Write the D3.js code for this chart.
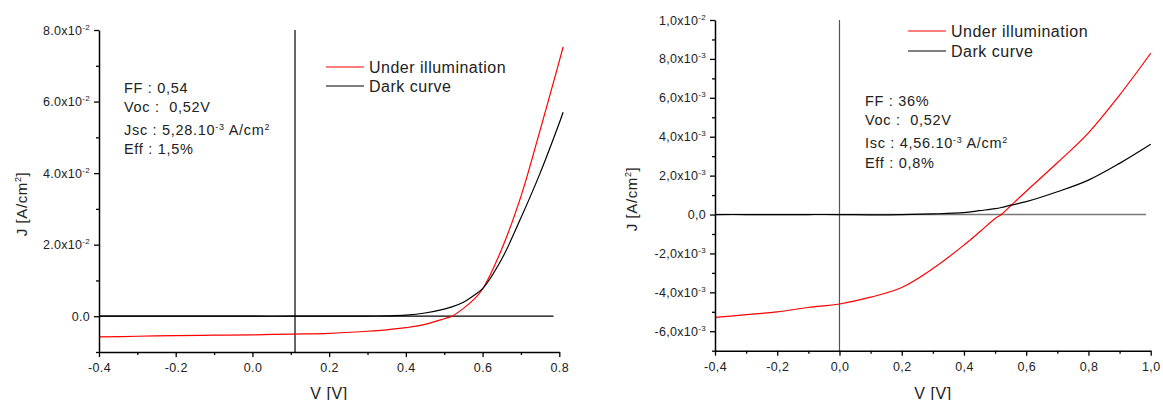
<!DOCTYPE html>
<html lang="en">
<head>
<meta charset="UTF-8" />
<title>J-V curves</title>
<script src="https://d3js.org/d3.v7.min.js"></script>
<style>
  body { margin: 0; background: #fff; }
  svg text { font-family: Arial, "Liberation Sans", sans-serif; fill: #222; white-space: pre; }
</style>
</head>
<body>
<svg width="1163" height="400"></svg>
<script>
// ---- left panel data ----
const leftV     = [-0.4, -0.3, -0.2, -0.1, 0.0, 0.1, 0.2, 0.3, 0.35, 0.4, 0.45, 0.5, 0.52, 0.55, 0.58, 0.6, 0.65, 0.7, 0.75, 0.8, 0.81];
const leftLight = [-0.0058, -0.0056, -0.0054, -0.0053, -0.0052, -0.0050, -0.0048, -0.0042, -0.0038, -0.0032, -0.0023, -0.0007, 0.0, 0.0022, 0.0050, 0.0076, 0.0188, 0.0335, 0.052, 0.0713, 0.0753];
const leftDark  = [0, 0, 0, 0, 0, 0, 0.00002, 0.00005, 0.0001, 0.0003, 0.0009, 0.0020, 0.0026, 0.0039, 0.0060, 0.0077, 0.0160, 0.0275, 0.040, 0.054, 0.057];
const leftXTicks  = [-0.4, -0.2, 0.0, 0.2, 0.4, 0.6, 0.8];
const leftXLabels = ["-0.4", "-0.2", "0.0", "0.2", "0.4", "0.6", "0.8"];
const leftXMinor  = [-0.3, -0.1, 0.1, 0.3, 0.5, 0.7];
const leftYTicks  = [0, 0.02, 0.04, 0.06, 0.08];
const leftYLabels = ["0.0", "2.0x10^-2", "4.0x10^-2", "6.0x10^-2", "8.0x10^-2"];
const leftYMinor  = [-0.01, 0.01, 0.03, 0.05, 0.07];
const leftInfo = ["FF : 0,54", "Voc :  0,52V", "Jsc : 5,28.10^-3 A/cm^2", "Eff : 1,5%"];

// ---- right panel data ----
const rightV     = [-0.4, -0.3, -0.2, -0.1, 0.0, 0.1, 0.2, 0.3, 0.4, 0.45, 0.5, 0.52, 0.55, 0.6, 0.7, 0.8, 0.9, 1.0];
const rightLight = [-0.00529, -0.00515, -0.0050, -0.00478, -0.0046, -0.00425, -0.00375, -0.00278, -0.00157, -0.0009, -0.0002, 0.0, 0.00045, 0.0012, 0.00266, 0.0042, 0.00614, 0.00829];
const rightDark  = [0.0, 0.0, -0.00001, 0.0, 0.0, -0.00002, -0.00001, 0.00003, 0.0001, 0.0002, 0.0003, 0.00036, 0.00048, 0.00066, 0.00117, 0.00177, 0.00263, 0.00361];
const rightXTicks  = [-0.4, -0.2, 0.0, 0.2, 0.4, 0.6, 0.8, 1.0];
const rightXLabels = ["-0,4", "-0,2", "0,0", "0,2", "0,4", "0,6", "0,8", "1,0"];
const rightXMinor  = [-0.3, -0.1, 0.1, 0.3, 0.5, 0.7, 0.9];
const rightYTicks  = [-0.006, -0.004, -0.002, 0, 0.002, 0.004, 0.006, 0.008, 0.01];
const rightYLabels = ["-6,0x10^-3", "-4,0x10^-3", "-2,0x10^-3", "0,0", "2,0x10^-3", "4,0x10^-3", "6,0x10^-3", "8,0x10^-3", "1,0x10^-2"];
const rightYMinor  = [-0.007, -0.005, -0.003, -0.001, 0.001, 0.003, 0.005, 0.007, 0.009];
const rightInfo = ["FF : 36%", "Voc :  0,52V", "Isc : 4,56.10^-3 A/cm^2", "Eff : 0,8%"];

const legendNames = ["Under illumination", "Dark curve"];
const seriesColors = ["#ff0000", "#000000"];

const svg = d3.select("svg");

// writes "a^-2 b" style strings with superscripts
function rich(sel, str, supSize) {
  sel.text(null);
  const parts = str.split(/(\^[-\d]+)/).filter(p => p !== "");
  let raised = false;
  parts.forEach(p => {
    if (p.startsWith("^")) {
      sel.append("tspan").attr("dy", -5).attr("font-size", supSize).text(p.slice(1));
      raised = true;
    } else {
      const t = sel.append("tspan").text(p);
      if (raised) { t.attr("dy", 5); raised = false; }
    }
  });
}

function drawPanel(p) {
  const x = d3.scaleLinear().domain(p.xDomain).range(p.xRange);
  const y = d3.scaleLinear().domain(p.yDomain).range(p.yRange);
  const g = svg.append("g");

  // reference lines
  g.append("line")
    .attr("x1", x(p.crossV)).attr("x2", x(p.crossV))
    .attr("y1", y(p.yDomain[1])).attr("y2", y(p.yDomain[0]))
    .attr("stroke", p.vColor).attr("stroke-width", 1.2);
  g.append("line")
    .attr("x1", x(p.xDomain[0])).attr("x2", x(p.zeroEnd))
    .attr("y1", y(0)).attr("y2", y(0))
    .attr("stroke", p.hColor).attr("stroke-width", p.hWidth);

  // curves
  const line = d3.line().x(d => x(d[0])).y(d => y(d[1])).curve(d3.curveCatmullRom.alpha(0.5));
  [p.light, p.dark].forEach((s, i) => {
    g.append("path")
      .datum(p.v.map((v, k) => [v, s[k]]))
      .attr("fill", "none")
      .attr("stroke", seriesColors[i])
      .attr("stroke-width", 1.2)
      .attr("d", line);
  });

  // axes
  const xAxis = g.append("g").attr("transform", `translate(0,${p.yRange[0]})`)
    .call(d3.axisBottom(x).tickValues(p.xTicks).tickSize(5).tickSizeOuter(0).tickPadding(4)
      .tickFormat((d, i) => p.xLabels[i]));
  g.append("g").attr("transform", `translate(0,${p.yRange[0]})`)
    .call(d3.axisBottom(x).tickValues(p.xMinor).tickSize(3).tickFormat(""))
    .select(".domain").remove();

  const yAxis = g.append("g").attr("transform", `translate(${p.xRange[0]},0)`)
    .call(d3.axisLeft(y).tickValues(p.yTicks).tickSize(5).tickSizeOuter(0).tickPadding(4)
      .tickFormat((d, i) => p.yLabels[i]));
  g.append("g").attr("transform", `translate(${p.xRange[0]},0)`)
    .call(d3.axisLeft(y).tickValues(p.yMinor).tickSize(3).tickFormat(""))
    .select(".domain").remove();

  g.selectAll(".domain").attr("stroke", "#000").attr("stroke-width", 1.5);
  g.selectAll(".tick line").attr("stroke", "#000").attr("stroke-width", 1.3);
  xAxis.selectAll(".tick text").attr("font-size", 12.5).attr("letter-spacing", 0.4)
    .attr("fill", "#222").attr("dy", "0.9em");
  yAxis.selectAll(".tick text").attr("font-size", 12.5).attr("letter-spacing", 0.3)
    .attr("fill", "#222")
    .each(function (d, i) { rich(d3.select(this), p.yLabels[i], 8); });

  // axis titles (cut by the bottom edge, as in the original)
  g.append("text").attr("x", p.xTitle[0]).attr("y", p.xTitle[1])
    .attr("text-anchor", "middle").attr("font-size", 16).attr("letter-spacing", 0.6)
    .text("V [V]");
  const yt = g.append("text")
    .attr("transform", `translate(${p.yTitle[0]},${p.yTitle[1]}) rotate(-90)`)
    .attr("text-anchor", "middle").attr("font-size", 15).attr("letter-spacing", 0.6);
  rich(yt, "J [A/cm^2]", 9);
  yt.selectAll("tspan").filter((d, i) => i === 1).attr("dy", -6);
  yt.selectAll("tspan").filter((d, i) => i === 2).attr("dy", 6);

  // legend
  legendNames.forEach((name, i) => {
    const ly = p.legend[1] + i * p.legendStep;
    g.append("line")
      .attr("x1", p.legend[0]).attr("x2", p.legend[0] + 38)
      .attr("y1", ly).attr("y2", ly)
      .attr("stroke", seriesColors[i]).attr("stroke-width", 1.2);
    g.append("text").attr("x", p.legend[0] + 43).attr("y", ly + 5.5)
      .attr("font-size", 16).attr("letter-spacing", 0.5).text(name);
  });

  // info block
  p.info.forEach((s, i) => {
    const t = g.append("text").attr("x", p.infoX).attr("y", p.infoY[i])
      .attr("font-size", 14.5).attr("letter-spacing", 0.7);
    rich(t, s, 9);
  });
}

drawPanel({
  v: leftV, light: leftLight, dark: leftDark,
  xDomain: [-0.4, 0.8], xRange: [99, 559.3],
  yDomain: [-0.01, 0.08], yRange: [352, 30],
  xTicks: leftXTicks, xLabels: leftXLabels, xMinor: leftXMinor,
  yTicks: leftYTicks, yLabels: leftYLabels, yMinor: leftYMinor,
  crossV: 0.111, zeroEnd: 0.785, vColor: "#000", hColor: "#000", hWidth: 1.2,
  xTitle: [329, 399], yTitle: [27, 204],
  legend: [326, 67], legendStep: 19,
  info: leftInfo, infoX: 124, infoY: [93, 112, 135, 154]
});

drawPanel({
  v: rightV, light: rightLight, dark: rightDark,
  xDomain: [-0.4, 1.0], xRange: [715, 1150.7],
  yDomain: [-0.007, 0.01], yRange: [350.7, 20],
  xTicks: rightXTicks, xLabels: rightXLabels, xMinor: rightXMinor,
  yTicks: rightYTicks, yLabels: rightYLabels, yMinor: rightYMinor,
  crossV: 0.0, zeroEnd: 0.985, vColor: "#555", hColor: "#777", hWidth: 1.6,
  xTitle: [933, 399], yTitle: [637, 199],
  legend: [908, 31], legendStep: 20,
  info: rightInfo, infoX: 865, infoY: [106, 125, 148, 168]
});
</script>
</body>
</html>
